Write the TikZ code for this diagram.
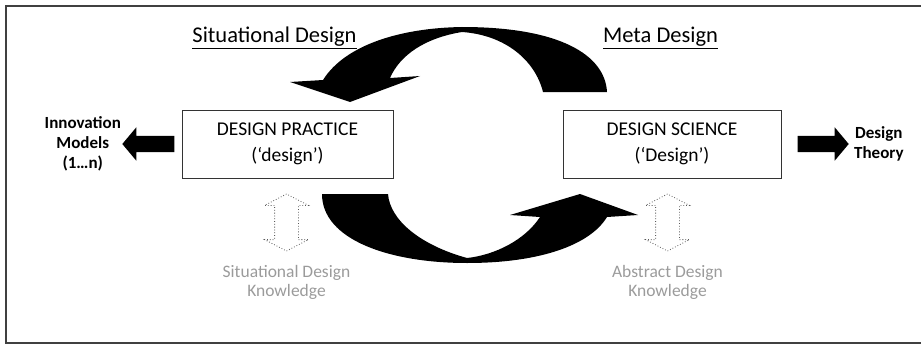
\documentclass[tikz,border=0pt]{standalone}
\usepackage{fontspec}
\setmainfont{Carlito}
\usetikzlibrary{shapes.arrows}
\usetikzlibrary{positioning}
\definecolor{knowgray}{RGB}{155,155,155}
\tikzset{
    frame/.style = {draw=black!75, line width=1.5pt},
    design box/.style = {draw=black!80, line width=1pt, align=center,
                         minimum width=211pt, minimum height=68pt,
                         font=\fontsize{19.5}{26}\selectfont
    },
    side label/.style = {align=center, inner sep=0pt,
                         font=\bfseries\fontsize{17}{20}\selectfont
    },
    head label/.style = {anchor=base, font=\fontsize{22.5}{27}\selectfont},
    knowledge label/.style = {align=center, inner sep=0pt, text=knowgray,
                              font=\fontsize{17.5}{19}\selectfont
    },
    output arrow/.style = {single arrow, fill=black,
                           inner xsep=0pt, inner ysep=8pt,
                           minimum height=52pt,
                           single arrow head extend=8.5pt,
                           single arrow tip angle=100,
    },
    knowledge arrow/.style = {double arrow, draw=black!65, line width=0.8pt,
                              dotted, fill=white,
                              rotate=90, inner xsep=0pt, inner ysep=11.5pt,
                              minimum height=57pt,
                              double arrow head extend=10pt,
                              double arrow tip angle=125,
    },
    cycle arrow/.style = {fill=black},
}

\begin{document}
\begin{tikzpicture}[x=1pt, y=-1pt]
    \useasboundingbox (0,0) rectangle (921,345);
    \draw[frame] (921,6) -- (6,6) -- (6,343) -- (921,343);

    \node (dp) [design box] at (287.5,144) {DESIGN PRACTICE\\(‘design’)};
    \node (ds) [design box, minimum width=218pt] at (672,144)
              {DESIGN SCIENCE\\(‘Design’)};

    \node (sd) [head label] at (274.5,43) {\underline{Situational Design}};
    \node (md) [head label] at (660.5,43) {\underline{Meta Design}};

    % block arrows to the outputs
    \node (ia) [output arrow, shape border rotate=180, left=7pt of dp] {};
    \node (im) [side label, left=1pt of ia] {Innovation\\Models\\(1…n)};
    \node (ta) [output arrow, minimum height=51pt, right=16pt of ds] {};
    \node (dt) [side label, right=5pt of ta] {Design\\Theory};

    % knowledge arrows
    \node (sa) [knowledge arrow] at (286.5,222.5) {};
    \node (sk) [knowledge label, below=14pt of sa.west]
               {Situational Design\\Knowledge};
    \node (aa) [knowledge arrow] at (667.5,222.5) {};
    \node (ak) [knowledge label, below=14pt of aa.west]
               {Abstract Design\\Knowledge};

    % the two curved arrows of the cycle
    \fill[cycle arrow] (543,92) -- (607,92)
        .. controls (605,55) and (560,27) .. (462,27)
        .. controls (400,28) and (345,45) .. (323,80)
        -- (290,82) -- (350,102) -- (420,76) -- (390,78)
        .. controls (400,55) and (425,38) .. (462,32)
        .. controls (505,35) and (535,60) .. (543,92) -- cycle;
    \fill[cycle arrow] (322,194)
        .. controls (322,240) and (390,263) .. (467,263)
        .. controls (540,263) and (590,245) .. (607,217)
        -- (638,215) -- (580,194) -- (510,215) -- (540,217)
        .. controls (525,240) and (495,255) .. (467,258)
        .. controls (420,245) and (390,220) .. (388,194) -- cycle;
\end{tikzpicture}
\end{document}
